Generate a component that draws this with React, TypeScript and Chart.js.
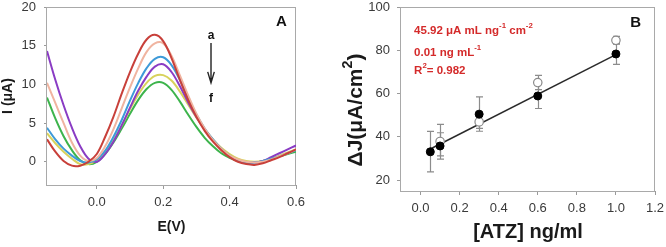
import React, { useEffect, useRef } from "react";
import { Chart, registerables } from "chart.js";

Chart.register(...registerables);

const FONT = "'Liberation Sans', Arial, Helvetica, sans-serif";

// ---------- Panel A data: potential grid (V) and current curves (µA) ----------
const E_V = [
  -0.15, -0.125, -0.1, -0.075, -0.05, -0.025, 0, 0.025, 0.05, 0.075, 0.1, 0.125, 0.15, 0.175, 0.2, 0.225,
  0.25, 0.275, 0.3, 0.325, 0.35, 0.375, 0.4, 0.425, 0.45, 0.475, 0.5, 0.525, 0.55, 0.575, 0.6,
];
const CURVE_A = [
  2.9, 1.3, 0.1, -0.5, -0.5, 0.0, 1.0, 3.2, 5.8, 8.8, 11.6, 14.0, 15.8, 16.4, 15.6, 13.4,
  10.6, 8.0, 5.8, 4.0, 2.6, 1.5, 0.6, 0.0, -0.3, -0.4, -0.2, 0.2, 0.6, 1.1, 1.6,
];
const CURVE_B = [
  10.2, 7.6, 5.0, 2.5, 0.8, 0.1, 0.5, 2.0, 4.2, 6.9, 9.6, 12.1, 14.2, 15.3, 15.3, 13.7,
  11.2, 8.6, 6.2, 4.3, 2.8, 1.7, 0.8, 0.3, 0.0, -0.1, 0.0, 0.3, 0.7, 1.1, 1.6,
];
const CURVE_C = [
  4.4, 2.9, 1.7, 0.8, 0.1, -0.1, 0.3, 1.4, 3.2, 5.4, 7.9, 10.2, 12.1, 13.3, 13.5, 12.5,
  10.6, 8.3, 6.1, 4.3, 2.9, 1.7, 0.8, 0.2, -0.1, -0.1, 0.1, 0.4, 0.7, 1.1, 1.5,
];
const CURVE_D = [
  14.3, 10.6, 7.3, 4.4, 2.0, 0.4, 0.0, 1.0, 2.6, 4.7, 7.0, 9.2, 11.0, 12.3, 12.6, 11.6,
  9.8, 7.7, 5.8, 4.2, 2.8, 1.6, 0.7, 0.2, -0.1, -0.1, 0.1, 0.6, 1.1, 1.6, 2.1,
];
const CURVE_E = [
  3.7, 2.4, 1.3, 0.4, -0.3, -0.3, 0.2, 1.2, 2.8, 4.7, 6.8, 8.7, 10.2, 11.1, 11.2, 10.5,
  9.1, 7.4, 5.7, 4.2, 2.9, 1.8, 1.0, 0.4, 0.1, 0.0, 0.1, 0.4, 0.8, 1.2, 1.6,
];
const CURVE_F = [
  8.3, 5.6, 3.3, 1.5, 0.2, -0.3, 0.0, 1.0, 2.5, 4.3, 6.2, 8.0, 9.4, 10.2, 10.2, 9.3,
  7.8, 6.1, 4.5, 3.1, 2.0, 1.1, 0.5, 0.1, -0.1, -0.1, 0.1, 0.4, 0.7, 1.0, 1.3,
];
const CURVES = [CURVE_A, CURVE_B, CURVE_C, CURVE_D, CURVE_E, CURVE_F];
const CURVE_NAMES = ["a", "b", "c", "d", "e", "f"];
const CURVE_COLORS = ["#c8403a", "#f0b4a0", "#3d9ad8", "#8a3cc4", "#d8d25c", "#3db44c"];

const A_X_TICKS = [0, 0.2, 0.4, 0.6];
const A_X_LABELS = ["0.0", "0.2", "0.4", "0.6"];
const A_Y_TICKS = [0, 5, 10, 15, 20];
const A_Y_LABELS = ["0", "5", "10", "15", "20"];

// ---------- Panel B data ----------
const ATZ_FILLED = [0.05, 0.1, 0.3, 0.6, 1.0];
const DJ_FILLED = [33.1, 35.8, 50.5, 58.9, 78.3];
const DJ_FILLED_LO = [23.8, 29.7, 42.6, 53.1, 73.5];
const DJ_FILLED_HI = [42.5, 41.9, 58.5, 64.7, 83.1];

const ATZ_OPEN = [0.1, 0.3, 0.6, 1.0];
const DJ_OPEN = [37.9, 46.9, 65.1, 84.6];
const DJ_OPEN_LO = [31.2, 43.9, 61.8, 82.8];
const DJ_OPEN_HI = [45.8, 49.9, 68.4, 86.4];

const FIT_X = [0.05, 1.0];
const FIT_Y = [34.4, 78.0];

const B_X_TICKS = [0, 0.2, 0.4, 0.6, 0.8, 1.0, 1.2];
const B_X_LABELS = ["0.0", "0.2", "0.4", "0.6", "0.8", "1.0", "1.2"];
const B_Y_TICKS = [20, 40, 60, 80, 100];
const B_Y_LABELS = ["20", "40", "60", "80", "100"];

const ANNOT_RED = "#d42a2a";
const FRAME = "#a9a9a9";
const TICK_COLOR = "#3a3a3a";

type Run = { t: string; sup?: boolean };

function drawRuns(
  ctx: CanvasRenderingContext2D,
  runs: Run[],
  x: number,
  y: number,
  size: number,
  color: string,
  rotate = 0,
  align: "left" | "center" = "left"
) {
  ctx.save();
  ctx.fillStyle = color;
  ctx.textBaseline = "middle";
  ctx.textAlign = "left";
  const supSize = size * 0.68;
  let total = 0;
  const widths = runs.map((r) => {
    ctx.font = `bold ${r.sup ? supSize : size}px ${FONT}`;
    const w = ctx.measureText(r.t).width;
    total += w;
    return w;
  });
  ctx.translate(x, y);
  if (rotate) ctx.rotate(rotate);
  let cx = align === "center" ? -total / 2 : 0;
  runs.forEach((r, i) => {
    ctx.font = `bold ${r.sup ? supSize : size}px ${FONT}`;
    ctx.fillText(r.t, cx, r.sup ? -size * 0.4 : 0);
    cx += widths[i];
  });
  ctx.restore();
}

const framePlugin = {
  id: "frameBox",
  beforeDatasetsDraw(chart: any) {
    const { ctx, chartArea } = chart;
    const { left, top, right, bottom } = chartArea;
    ctx.save();
    ctx.strokeStyle = FRAME;
    ctx.lineWidth = 1;
    ctx.strokeRect(Math.round(left) - 0.5, Math.round(top) + 0.5, Math.round(right - left), Math.round(bottom - top));
    ctx.restore();
  },
};

function tickAxis(min: number, max: number, ticks: number[], labels: string[], pad: number, tickLen: number, fix: (s: any) => void) {
  return {
    type: "linear" as const,
    min,
    max,
    afterBuildTicks: (s: any) => {
      s.ticks = ticks.map((v) => ({ value: v }));
    },
    afterFit: fix,
    ticks: {
      autoSkip: false,
      maxRotation: 0,
      padding: pad,
      color: TICK_COLOR,
      font: { size: 13, family: FONT },
      callback: (_v: any, i: number) => labels[i],
    },
    grid: { drawOnChartArea: false, drawTicks: true, tickLength: tickLen, color: "#9a9a9a", lineWidth: 1 },
    border: { display: false },
  };
}

function PanelA() {
  const ref = useRef<HTMLCanvasElement>(null);
  useEffect(() => {
    const annot = {
      id: "annotA",
      afterDatasetsDraw(chart: any) {
        const { ctx, scales } = chart;
        const sx = scales.x;
        const sy = scales.y;
        ctx.save();
        ctx.fillStyle = "#111";
        ctx.textAlign = "center";
        ctx.textBaseline = "middle";
        ctx.font = `bold 15px ${FONT}`;
        ctx.fillText("A", sx.getPixelForValue(0.556), sy.getPixelForValue(18.1));
        ctx.font = `bold 12px ${FONT}`;
        const ax = sx.getPixelForValue(0.344);
        ctx.fillText(CURVE_NAMES[0], ax, sy.getPixelForValue(16.3));
        ctx.fillText(CURVE_NAMES[5], ax, sy.getPixelForValue(8.2));
        const y1 = sy.getPixelForValue(15.35);
        const y2 = sy.getPixelForValue(10.2);
        ctx.strokeStyle = "#222";
        ctx.lineWidth = 1.4;
        ctx.beginPath();
        ctx.moveTo(ax, y1);
        ctx.lineTo(ax, y2);
        ctx.moveTo(ax - 3.3, y2 - 11);
        ctx.lineTo(ax, y2);
        ctx.lineTo(ax + 3.3, y2 - 11);
        ctx.stroke();
        ctx.restore();
      },
    };
    const chart = new Chart(ref.current!, {
      type: "line",
      data: {
        datasets: CURVES.map((c, k) => ({
          label: CURVE_NAMES[k],
          data: E_V.map((e, i) => ({ x: e, y: c[i] })),
          borderColor: CURVE_COLORS[k],
          borderWidth: 2,
          pointRadius: 0,
          tension: 0.35,
          fill: false,
        })),
      },
      options: {
        responsive: false,
        animation: false,
        events: [],
        layout: { padding: { top: 7, right: 37, bottom: 0, left: 0 } },
        plugins: { legend: { display: false }, tooltip: { enabled: false } },
        scales: {
          x: {
            ...tickAxis(-0.15, 0.6, A_X_TICKS, A_X_LABELS, 6, 4, (s: any) => {
              s.height = 62;
              s.paddingLeft = 0;
              s.paddingRight = 0;
            }),
            title: {
              display: true,
              text: "E(V)",
              color: "#1a1a1a",
              font: { size: 14, weight: "bold", family: FONT },
              padding: { top: 0, bottom: 11 },
            },
          },
          y: {
            ...tickAxis(-3, 20, A_Y_TICKS, A_Y_LABELS, 8, 3, (s: any) => {
              s.width = 47;
              s.paddingTop = 0;
              s.paddingBottom = 0;
            }),
            title: {
              display: true,
              text: "I (μA)",
              color: "#1a1a1a",
              font: { size: 14, weight: "bold", family: FONT },
              padding: { top: 0, bottom: 0 },
            },
          },
        },
      } as any,
      plugins: [framePlugin, annot],
    });
    return () => chart.destroy();
  }, []);
  return <canvas ref={ref} width={333} height={247} style={{ position: "absolute", left: 0, top: 0 }} />;
}

function PanelB() {
  const ref = useRef<HTMLCanvasElement>(null);
  useEffect(() => {
    const errPlugin = {
      id: "errBars",
      beforeDatasetsDraw(chart: any) {
        const { ctx, scales } = chart;
        const sx = scales.x;
        const sy = scales.y;
        const draw = (xs: number[], lo: number[], hi: number[]) => {
          xs.forEach((xv, i) => {
            const px = Math.round(sx.getPixelForValue(xv)) + 0.5;
            const a = sy.getPixelForValue(lo[i]);
            const b = sy.getPixelForValue(hi[i]);
            ctx.beginPath();
            ctx.moveTo(px, a);
            ctx.lineTo(px, b);
            ctx.moveTo(px - 3.5, a);
            ctx.lineTo(px + 3.5, a);
            ctx.moveTo(px - 3.5, b);
            ctx.lineTo(px + 3.5, b);
            ctx.stroke();
          });
        };
        ctx.save();
        ctx.strokeStyle = "#8c8c8c";
        ctx.lineWidth = 1.2;
        draw(ATZ_OPEN, DJ_OPEN_LO, DJ_OPEN_HI);
        draw(ATZ_FILLED, DJ_FILLED_LO, DJ_FILLED_HI);
        ctx.restore();
      },
    };
    const annot = {
      id: "annotB",
      afterDatasetsDraw(chart: any) {
        const { ctx, scales } = chart;
        const sx = scales.x;
        const sy = scales.y;
        ctx.save();
        ctx.fillStyle = "#111";
        ctx.textAlign = "center";
        ctx.textBaseline = "middle";
        ctx.font = `bold 15px ${FONT}`;
        ctx.fillText("B", sx.getPixelForValue(1.101), sy.getPixelForValue(92.9));
        ctx.restore();
        const lx = sx.getPixelForValue(-0.033);
        drawRuns(ctx, [{ t: "45.92 μA mL ng" }, { t: "-1", sup: true }, { t: " cm" }, { t: "-2", sup: true }], lx, sy.getPixelForValue(89.1), 11.5, ANNOT_RED);
        drawRuns(ctx, [{ t: "0.01 ng mL" }, { t: "-1", sup: true }], lx, sy.getPixelForValue(79.0), 11.5, ANNOT_RED);
        drawRuns(ctx, [{ t: "R" }, { t: "2", sup: true }, { t: "= 0.982" }], lx, sy.getPixelForValue(70.7), 11.5, ANNOT_RED);
        // y-axis title
        drawRuns(ctx, [{ t: "ΔJ(μA/cm" }, { t: "2", sup: true }, { t: ")" }], 23, 110, 21, "#1a1a1a", -Math.PI / 2, "center");
      },
    };
    const chart = new Chart(ref.current!, {
      type: "scatter",
      data: {
        datasets: [
          {
            type: "line",
            label: "fit",
            data: FIT_X.map((x, i) => ({ x, y: FIT_Y[i] })),
            borderColor: "#2a2a2a",
            borderWidth: 1.5,
            pointRadius: 0,
            fill: false,
            order: 3,
          },
          {
            label: "open",
            data: ATZ_OPEN.map((x, i) => ({ x, y: DJ_OPEN[i] })),
            backgroundColor: "#ffffff",
            borderColor: "#8a8a8a",
            borderWidth: 1.2,
            pointRadius: 4.2,
            order: 2,
          },
          {
            label: "filled",
            data: ATZ_FILLED.map((x, i) => ({ x, y: DJ_FILLED[i] })),
            backgroundColor: "#000000",
            borderColor: "#000000",
            borderWidth: 1,
            pointRadius: 4,
            order: 1,
          },
        ],
      },
      options: {
        responsive: false,
        animation: false,
        events: [],
        layout: { padding: { top: 7, right: 11, bottom: 0, left: 0 } },
        plugins: { legend: { display: false }, tooltip: { enabled: false } },
        scales: {
          x: {
            ...tickAxis(-0.1, 1.2, B_X_TICKS, B_X_LABELS, 6, 4, (s: any) => {
              s.height = 56;
              s.paddingLeft = 0;
              s.paddingRight = 0;
            }),
            title: {
              display: true,
              text: "[ATZ] ng/ml",
              color: "#1a1a1a",
              font: { size: 20, weight: "bold", family: FONT },
              padding: { top: 0, bottom: 3 },
            },
          },
          y: {
            ...tickAxis(15, 100, B_Y_TICKS, B_Y_LABELS, 7, 4, (s: any) => {
              s.width = 68;
              s.paddingTop = 0;
              s.paddingBottom = 0;
            }),
          },
        },
      } as any,
      plugins: [framePlugin, errPlugin, annot],
    });
    return () => chart.destroy();
  }, []);
  return <canvas ref={ref} width={333} height={247} style={{ position: "absolute", left: 333, top: 0 }} />;
}

export default function App() {
  return (
    <div style={{ position: "absolute", left: 0, top: 0, width: 666, height: 247, background: "#ffffff", overflow: "hidden" }}>
      <PanelA />
      <PanelB />
    </div>
  );
}
